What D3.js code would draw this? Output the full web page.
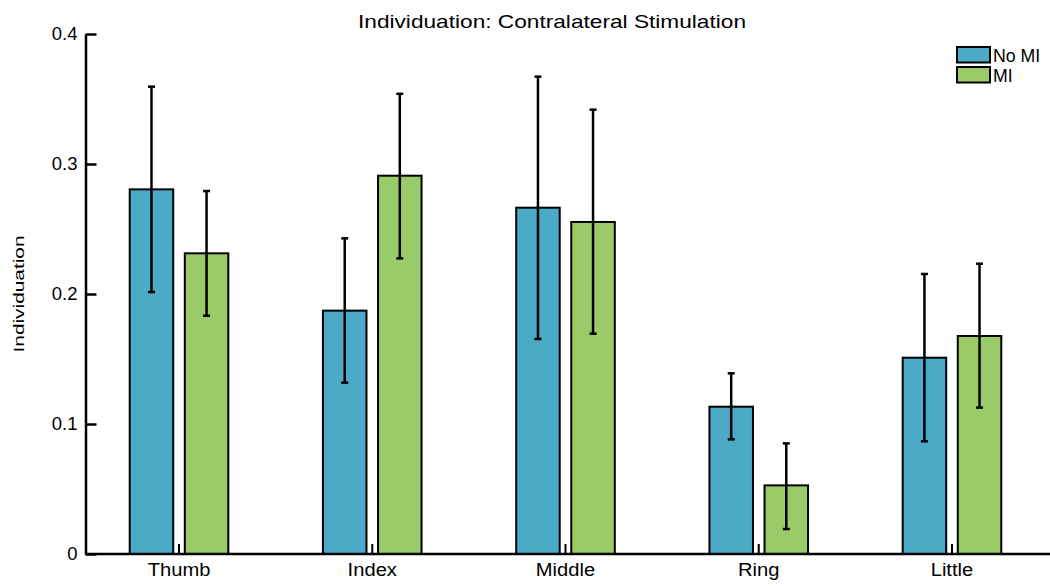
<!DOCTYPE html>
<html><head><meta charset="utf-8">
<script src="https://cdn.jsdelivr.net/npm/d3@7"></script>
<style>body{margin:0;background:#fff}svg{display:block;font-family:"Liberation Sans",Arial,sans-serif}</style>
</head><body><svg id="c" width="1050" height="586"></svg>
<script>
const categories = ["Thumb","Index","Middle","Ring","Little"];
const seriesNames = ["No MI","MI"];
const noMI = [0.2805,0.1872,0.2664,0.1133,0.1510];
const noMIerrLow = [0.2015,0.1318,0.1654,0.0882,0.0867];
const noMIerrHigh = [0.3595,0.2428,0.3672,0.1390,0.2154];
const mi = [0.2313,0.2910,0.2554,0.0528,0.1677];
const miErrLow = [0.1833,0.2274,0.1695,0.0192,0.1126];
const miErrHigh = [0.2792,0.3540,0.3418,0.0851,0.2233];
const yTicks = [0,0.1,0.2,0.3,0.4];
const colors = ["#4BAAC6","#9BCA68"];

const FONT = "Liberation Sans, Arial, sans-serif";
const svg = d3.select("#c");
const x0 = 85.5, yTop = 34, yBot = 554;
const x = d3.scaleBand().domain(categories).range([82.4, 1048.6]).padding(0);
const y = d3.scaleLinear().domain([0,0.4]).range([yBot, yTop]);
const xs = d3.scaleBand().domain(seriesNames).range([-49.3, 49.3]).paddingInner(0.21).paddingOuter(0);

const series = [
  {name:"No MI", v:noMI, lo:noMIerrLow, hi:noMIerrHigh},
  {name:"MI", v:mi, lo:miErrLow, hi:miErrHigh}
];

series.forEach((s,si)=>{
  const g = svg.append("g");
  categories.forEach((c,i)=>{
    const cx = x(c) + x.bandwidth()/2;
    const bx = cx + xs(s.name);
    g.append("rect").attr("x",bx).attr("y",y(s.v[i])).attr("width",xs.bandwidth())
      .attr("height",y(0)-y(s.v[i])).attr("fill",colors[si]).attr("stroke","#000").attr("stroke-width",2);
    const ex = bx + xs.bandwidth()/2;
    g.append("line").attr("x1",ex).attr("x2",ex).attr("y1",y(s.lo[i])).attr("y2",y(s.hi[i]))
      .attr("stroke","#000").attr("stroke-width",2.5);
    [s.lo[i], s.hi[i]].forEach(v=>{
      g.append("line").attr("x1",ex-3.5).attr("x2",ex+3.5).attr("y1",y(v)).attr("y2",y(v))
        .attr("stroke","#000").attr("stroke-width",2.5);
    });
  });
});

// y axis
const yAxis = d3.axisLeft(y).tickValues(yTicks).tickFormat(d=>d===0?"0":d3.format(".1f")(d)).tickSizeInner(-11).tickSizeOuter(0).tickPadding(8);
const ya = svg.append("g").attr("transform",`translate(${x0},0)`).call(yAxis);
ya.select(".domain").attr("stroke-width",2.5);
ya.selectAll(".tick line").attr("stroke-width",2.5);
ya.selectAll(".tick text").attr("font-size",18.5).attr("fill","#000").attr("font-family",FONT);

// x axis
const xAxis = d3.axisBottom(x).tickSizeInner(-10).tickSizeOuter(0).tickPadding(9);
const xa = svg.append("g").attr("transform",`translate(0,${yBot})`).call(xAxis);
xa.select(".domain").attr("d",`M${x0},0H1050`).attr("stroke-width",2.5);
xa.selectAll(".tick line").attr("stroke-width",2);
xa.selectAll(".tick text").attr("font-size",18.5).attr("fill","#000").attr("font-family",FONT)
  .attr("transform","scale(1.09,1)");

// title
svg.append("text").attr("x",552).attr("y",27.5).attr("text-anchor","middle").attr("font-size",18.5)
  .attr("textLength",388).attr("lengthAdjust","spacingAndGlyphs").text("Individuation: Contralateral Stimulation");
// y label
svg.append("text").attr("transform","translate(24,294) rotate(-90)").attr("text-anchor","middle").attr("font-size",15)
  .attr("textLength",117).attr("lengthAdjust","spacingAndGlyphs").text("Individuation");

// legend
const leg = svg.append("g").attr("transform","translate(957,47)");
seriesNames.forEach((n,i)=>{
  leg.append("rect").attr("x",0).attr("y",i*20).attr("width",33).attr("height",15.5).attr("fill",colors[i]).attr("stroke","#000").attr("stroke-width",2);
  leg.append("text").attr("x",36).attr("y",i*20+14.5).attr("font-size",17.7).text(n);
});
</script></body></html>
